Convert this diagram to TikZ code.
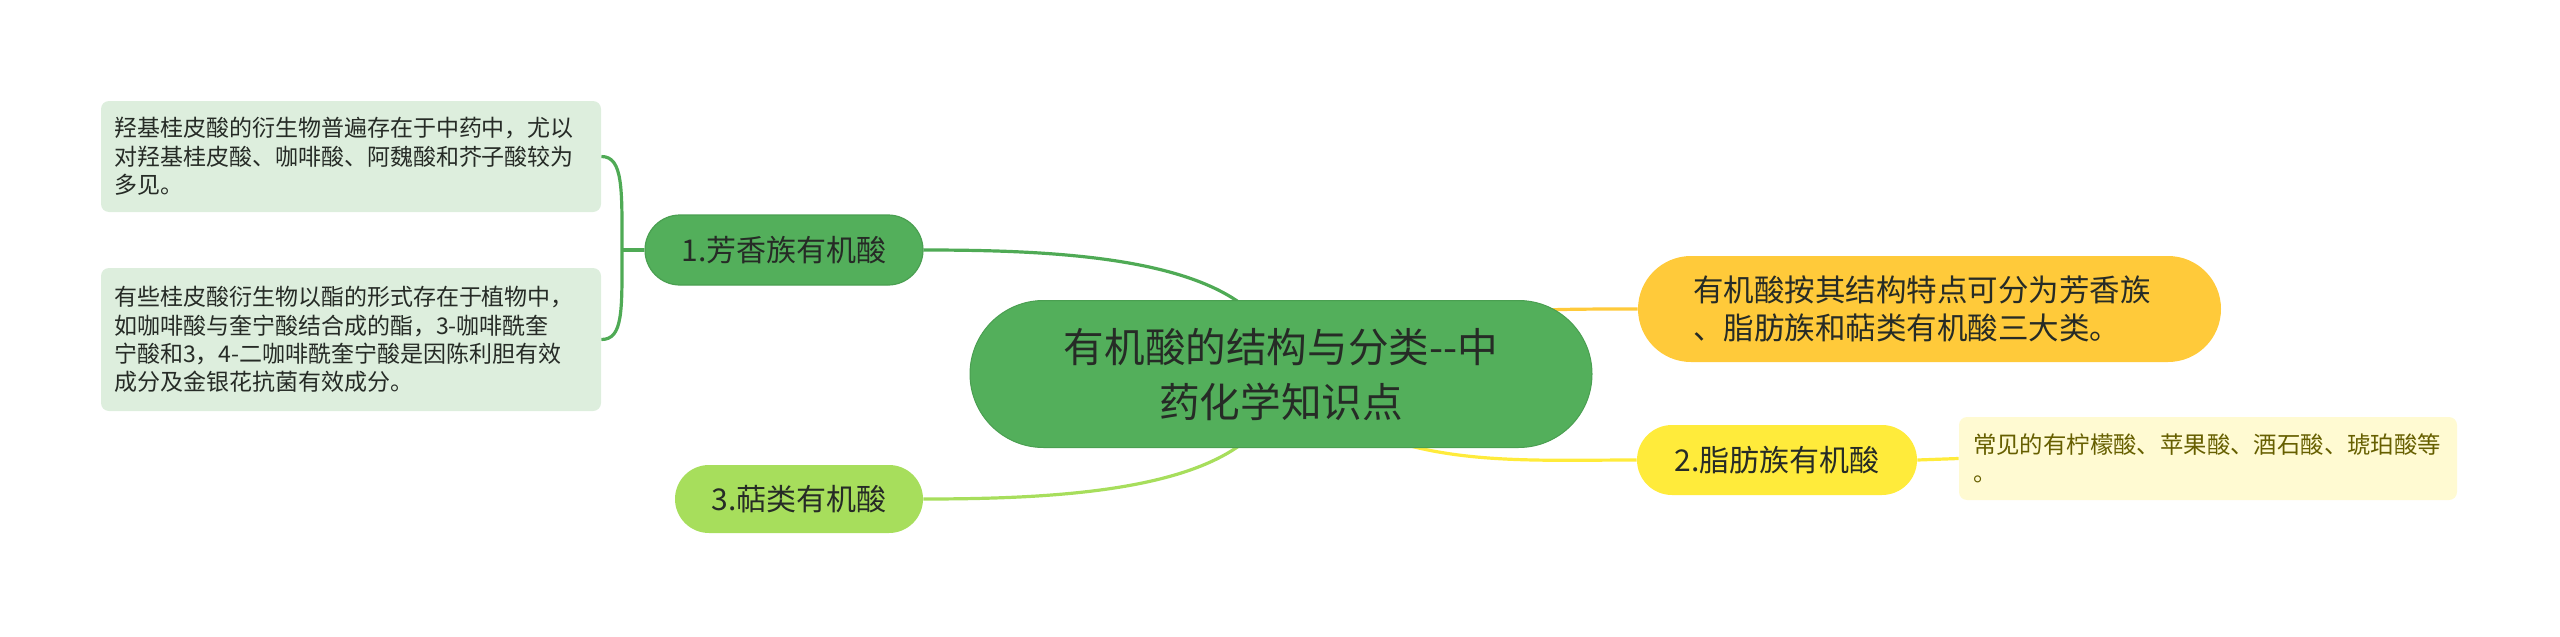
\documentclass[tikz,border=0pt]{standalone}
\usepackage{fontspec}
\setmainfont{Noto Sans CJK SC}
\usetikzlibrary{shapes.misc,backgrounds}

\definecolor{rootgreen}{HTML}{53AF5B}
\definecolor{rootline}{HTML}{4A9F51}
\definecolor{linkgreen}{HTML}{4FAA55}
\definecolor{limegreen}{HTML}{A7DE5C}
\definecolor{gold}{HTML}{FFCA3A}
\definecolor{lemon}{HTML}{FFEB3B}
\definecolor{leafgreen}{HTML}{DDEEDD}
\definecolor{leafyellow}{HTML}{FFFAD2}
\definecolor{darktext}{HTML}{262B26}
\definecolor{olivetext}{HTML}{665F00}

\begin{document}
\begin{tikzpicture}[x=0.5pt, y=-0.5pt,
    pill/.style={rounded rectangle, inner sep=0pt, align=center, text=darktext},
    leafbox/.style={rectangle, rounded corners=4pt, align=left, inner xsep=6.5pt, inner ysep=0pt},
    link/.style={line width=1.6pt}]
    \useasboundingbox (0,0) rectangle (2560,637);

    % Central topic
    \node[pill, fill=rootgreen, draw=rootline, line width=0.5pt, minimum width=311pt, minimum height=73.5pt,
        font=\fontsize{20.3}{27.5}\selectfont] (root) at (1281,374) {有机酸的结构与分类-{}-中\\药化学知识点};

    % Branches
    \node[pill, fill=rootgreen, draw=rootline, line width=0.6pt, minimum width=139pt, minimum height=35pt,
        font=\fontsize{15}{18}\selectfont] (aromatic) at (784,250) {1.芳香族有机酸};
    \node[pill, fill=limegreen, minimum width=124pt, minimum height=34pt,
        font=\fontsize{15}{18}\selectfont] (terpene) at (799,499) {3.萜类有机酸};
    \node[pill, fill=lemon, minimum width=140pt, minimum height=35pt,
        font=\fontsize{15}{18}\selectfont] (aliphatic) at (1777,460) {2.脂肪族有机酸};
    \node[pill, fill=gold, minimum width=291.5pt, minimum height=53pt, text width=236.5pt, align=left,
        font=\fontsize{15.25}{19}\selectfont] (summary) at (1929.5,309)
        {有机酸按其结构特点可分为芳香族\\、脂肪族和萜类有机酸三大类。};

    % Details
    \node[leafbox, fill=leafgreen, text width=237pt, minimum height=55.5pt, text=darktext,
        font=\fontsize{11.5}{14.2}\selectfont] (hydroxy) at (351,156.5)
        {羟基桂皮酸的衍生物普遍存在于中药中，尤以\\对羟基桂皮酸、咖啡酸、阿魏酸和芥子酸较为\\多见。};
    \node[leafbox, fill=leafgreen, text width=237pt, minimum height=71.5pt, text=darktext,
        font=\fontsize{11.5}{14.2}\selectfont] (ester) at (351,339.5)
        {有些桂皮酸衍生物以酯的形式存在于植物中，\\如咖啡酸与奎宁酸结合成的酯，3-咖啡酰奎\\宁酸和3，4-二咖啡酰奎宁酸是因陈利胆有效\\成分及金银花抗菌有效成分。};
    \node[leafbox, fill=leafyellow, text width=235pt, inner xsep=7pt, minimum height=41.5pt, text=olivetext,
        font=\fontsize{11.7}{14}\selectfont] (common) at (2208,458.5)
        {常见的有柠檬酸、苹果酸、酒石酸、琥珀酸等\\。};

    % Connectors
    \begin{scope}[on background layer]
        \draw[link, linkgreen] (root.center) .. controls +(-6,-114) and +(157,0) .. (aromatic.east);
        \draw[link, limegreen] (root.center) .. controls +(-6,114) and +(157,0) .. (terpene.east);
        \draw[link, gold] (root.center) .. controls +(139,-65) and +(-138,0) .. (summary.west);
        \draw[link, lemon] (root.center) .. controls +(99,96) and +(-137,0) .. (aliphatic.west);
    \end{scope}

    % Bracket to the details
    \coordinate (fork) at (622,250);
    \draw[link, linkgreen] (hydroxy.east) .. controls +(22,0) and +(0,-60) .. (fork)
        .. controls +(0,60) and +(22,0) .. (ester.east);
    \draw[link, linkgreen] (fork) -- (aromatic.west);
    \draw[link, lemon] (aliphatic.east) -- (common.west);
\end{tikzpicture}
\end{document}
